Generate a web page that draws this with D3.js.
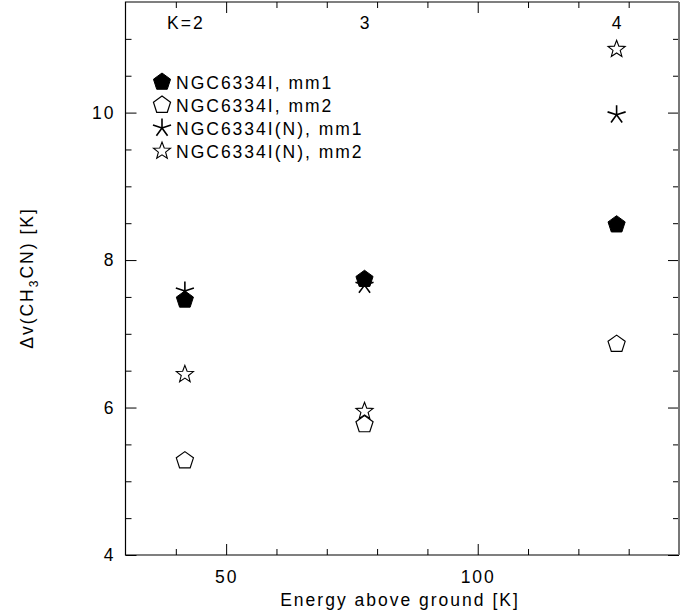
<!DOCTYPE html>
<html>
<head>
<meta charset="utf-8">
<script src="https://cdn.jsdelivr.net/npm/d3@7"></script>
<style>
  html, body { margin: 0; padding: 0; background: #fff; }
  svg { display: block; }
  text { font-family: "Liberation Sans", Arial, sans-serif; font-size: 17.5px; letter-spacing: 2px; fill: #000; }
</style>
</head>
<body>
<script>
// ---- data ----
const energies = [41.8, 77.5, 127.6];           // Energy above ground [K] for K=2,3,4
const kLabels = ["K=2", "3", "4"];
const mm1_I = [7.46, 7.74, 8.48];               // NGC6334I, mm1
const mm2_I = [5.28, 5.77, 6.86];               // NGC6334I, mm2
const mm1_N = [7.58, 7.66, 9.97];               // NGC6334I(N), mm1
const mm2_N = [6.45, 5.95, 10.86];              // NGC6334I(N), mm2
const seriesNames = ["NGC6334I, mm1", "NGC6334I, mm2", "NGC6334I(N), mm1", "NGC6334I(N), mm2"];
const xMajorTicks = [50, 100];
const xMinorTicks = [40, 60, 70, 80, 90, 110, 120, 130];
const yMajorTicks = [4, 6, 8, 10];
const yMinorTicks = [4.5, 5, 5.5, 6.5, 7, 7.5, 8.5, 9, 9.5, 10.5, 11];

const W = 696, H = 614;
const L = 125.5, R = 679, T = 2, B = 555;

const svg = d3.select("body").append("svg").attr("width", W).attr("height", H);

const x = d3.scaleLinear().domain([30, 140]).range([L, R]);
const y = d3.scaleLinear().domain([4, 11.5]).range([B, T]);

// ---- axes (inward ticks on all four sides) ----
function styleAxis(g) {
  g.select(".domain").remove();
  g.selectAll(".tick line").attr("stroke", "#000").attr("stroke-width", 1);
  g.selectAll("text").attr("font-family", null).attr("font-size", null).attr("fill", "#000");
}
svg.append("g").attr("transform", `translate(0,${B})`)
  .call(d3.axisBottom(x).tickValues(xMajorTicks).tickSize(-11).tickPadding(16).tickFormat(d3.format("d")))
  .call(styleAxis);
svg.append("g").attr("transform", `translate(0,${B})`)
  .call(d3.axisBottom(x).tickValues(xMinorTicks).tickSize(-6).tickFormat(""))
  .call(styleAxis);
svg.append("g").attr("transform", `translate(0,${T})`)
  .call(d3.axisTop(x).tickValues(xMajorTicks).tickSize(-11).tickFormat(""))
  .call(styleAxis);
svg.append("g").attr("transform", `translate(0,${T})`)
  .call(d3.axisTop(x).tickValues(xMinorTicks).tickSize(-6).tickFormat(""))
  .call(styleAxis);
svg.append("g").attr("transform", `translate(${L},0)`)
  .call(d3.axisLeft(y).tickValues(yMajorTicks).tickSize(-11).tickPadding(10).tickFormat(d3.format("d")))
  .call(styleAxis);
svg.append("g").attr("transform", `translate(${L},0)`)
  .call(d3.axisLeft(y).tickValues(yMinorTicks).tickSize(-6).tickFormat(""))
  .call(styleAxis);
svg.append("g").attr("transform", `translate(${R},0)`)
  .call(d3.axisRight(y).tickValues(yMajorTicks).tickSize(-11).tickFormat(""))
  .call(styleAxis);
svg.append("g").attr("transform", `translate(${R},0)`)
  .call(d3.axisRight(y).tickValues(yMinorTicks).tickSize(-6).tickFormat(""))
  .call(styleAxis);

// frame
svg.append("path").attr("d", `M${R},${T}H${L}V${B}H${R}`).attr("fill", "none").attr("stroke", "#000").attr("stroke-width", 1.2);
svg.append("line").attr("x1", R).attr("x2", R).attr("y1", T).attr("y2", B).attr("stroke", "#777").attr("stroke-width", 2);

// ---- axis titles ----
svg.append("text").attr("x", 400).attr("y", 606).attr("text-anchor", "middle").text("Energy above ground [K]");
const yl = svg.append("text").attr("transform", "translate(33,278) rotate(-90)").attr("text-anchor", "middle");
yl.append("tspan").text("Δv(CH");
yl.append("tspan").attr("dy", 5).attr("font-size", "12px").text("3");
yl.append("tspan").attr("dy", -5).text("CN) [K]");

// ---- K labels at top ----
svg.selectAll(".klab").data(energies).join("text")
  .attr("class", "klab")
  .attr("x", d => x(d) + 1)
  .attr("y", 29)
  .attr("text-anchor", "middle")
  .text((d, i) => kLabels[i]);

// ---- marker shapes ----
function polyPoints(r, n, rot) {
  const pts = [];
  for (let k = 0; k < n; k++) {
    const a = -Math.PI / 2 + rot + k * 2 * Math.PI / n;
    pts.push([r * Math.cos(a), r * Math.sin(a)]);
  }
  return pts;
}
const pentagonPath = "M" + polyPoints(9, 5, 0).map(p => p.join(",")).join("L") + "Z";
const starPath = (() => {
  const pts = [];
  for (let k = 0; k < 10; k++) {
    const r = k % 2 === 0 ? 9 : 3.8;
    const a = -Math.PI / 2 + k * Math.PI / 5;
    pts.push([r * Math.cos(a), r * Math.sin(a)]);
  }
  return "M" + pts.map(p => p.join(",")).join("L") + "Z";
})();
const asteriskPath = polyPoints(9.5, 5, 0).map(p => `M0,0L${p[0]},${p[1]}`).join("");

const markerDefs = [
  { d: pentagonPath, fill: "#000", stroke: "#000", sw: 1 },
  { d: pentagonPath, fill: "#fff", stroke: "#000", sw: 1.2 },
  { d: asteriskPath, fill: "none", stroke: "#000", sw: 1.6 },
  { d: starPath, fill: "#fff", stroke: "#000", sw: 1.1 }
];
const allSeries = [mm1_I, mm2_I, mm1_N, mm2_N];

allSeries.forEach((vals, si) => {
  const m = markerDefs[si];
  svg.append("g").selectAll("path").data(vals).join("path")
    .attr("transform", (v, i) => `translate(${x(energies[i])},${y(v)})`)
    .attr("d", m.d).attr("fill", m.fill).attr("stroke", m.stroke)
    .attr("stroke-width", m.sw).attr("stroke-linejoin", "miter");
});

// ---- legend ----
const leg = svg.append("g");
const legY = [82, 105, 128, 151];
seriesNames.forEach((name, i) => {
  const m = markerDefs[i];
  leg.append("path").attr("transform", `translate(162,${legY[i]})`)
    .attr("d", m.d).attr("fill", m.fill).attr("stroke", m.stroke).attr("stroke-width", m.sw);
  leg.append("text").attr("x", 176).attr("y", legY[i] + 6.5).text(name);
});
</script>
</body>
</html>
